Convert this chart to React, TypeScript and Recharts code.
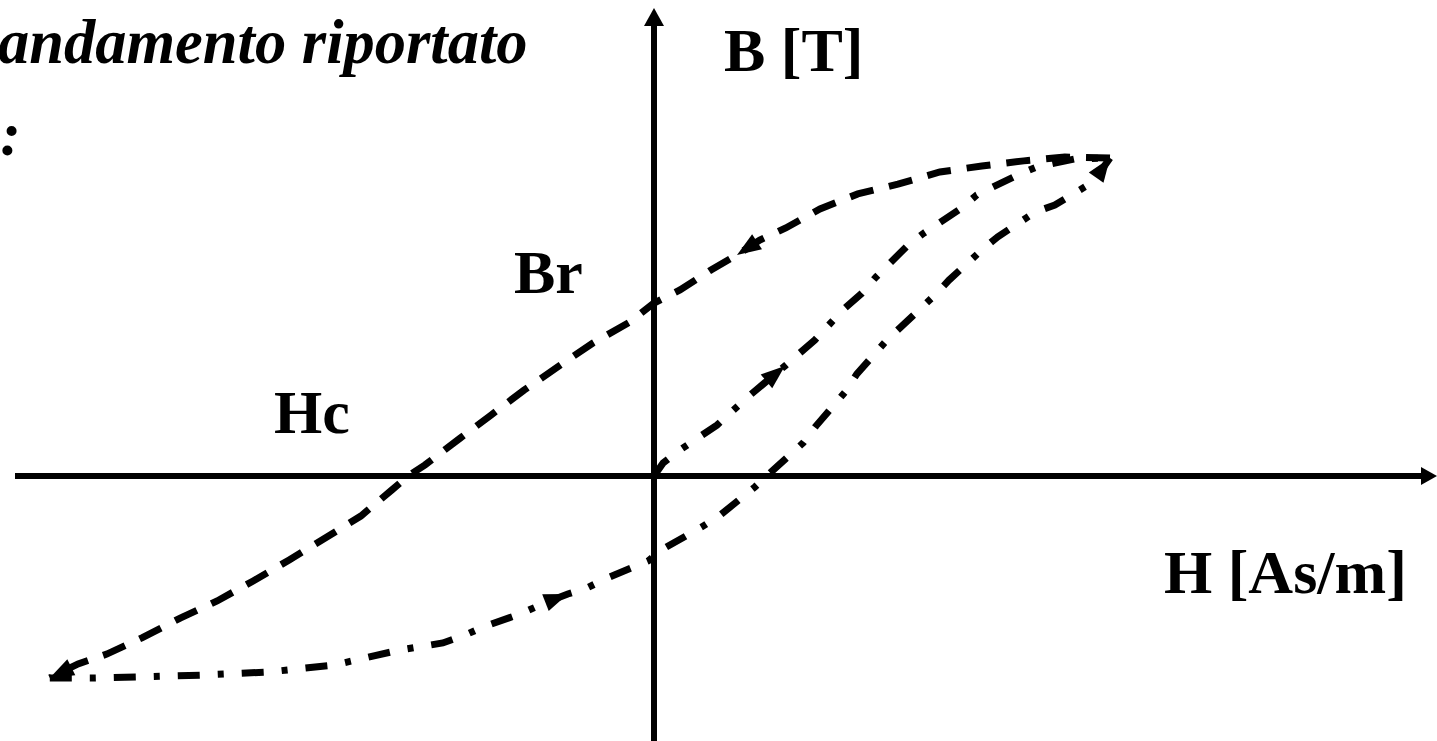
import React from 'react';
import { LineChart, Line, XAxis, YAxis, ReferenceLine } from 'recharts';

// canvas and where the H/B origin sits on it
const WIDTH = 1437;
const HEIGHT = 741;
const ORIGIN_X = 654;
const ORIGIN_Y = 476;
const PX_PER_H = 4.56;
const PX_PER_B = 318;

const hDomain: [number, number] = [-ORIGIN_X / PX_PER_H, (WIDTH - ORIGIN_X) / PX_PER_H];
const bDomain: [number, number] = [-(HEIGHT - ORIGIN_Y) / PX_PER_B, ORIGIN_Y / PX_PER_B];

// descending branch (from +Hmax back to -Hmax), [H, B]
const descending: [number, number][] = [
  [100, 1.0], [90.1, 1.003], [81.1, 0.991], [71.9, 0.975], [62.7, 0.956],
  [53.5, 0.918], [44.7, 0.887], [36.4, 0.84], [28.9, 0.78], [23.2, 0.742],
  [18.2, 0.695], [12.5, 0.648], [5.7, 0.585], [0, 0.544], [-5.3, 0.484],
  [-13.4, 0.418], [-20.8, 0.346], [-28.5, 0.27], [-35.7, 0.192], [-42.5, 0.119],
  [-50.2, 0.035], [-53.9, 0], [-57.5, -0.044], [-64.3, -0.126], [-72.1, -0.195],
  [-80.0, -0.264], [-87.9, -0.33], [-95.8, -0.393], [-103.9, -0.447], [-112.3, -0.509],
  [-120.0, -0.56], [-126.3, -0.591], [-132.5, -0.635],
];

// ascending branch (from -Hmax up to +Hmax)
const ascending: [number, number][] = [
  [-132.5, -0.635], [-122.6, -0.635], [-113.2, -0.632], [-98.9, -0.626], [-84.2, -0.616],
  [-70.0, -0.594], [-55.7, -0.547], [-46.3, -0.525], [-41.4, -0.5], [-37.5, -0.475],
  [-29.4, -0.434], [-23.9, -0.399], [-18.9, -0.371], [-14.7, -0.352], [-10.3, -0.321],
  [-1.3, -0.267], [2.4, -0.226], [10.5, -0.16], [14.5, -0.123], [22.1, -0.035],
  [25.4, 0.009], [32.7, 0.104], [35.5, 0.157], [41.9, 0.264], [44.5, 0.321],
  [51.1, 0.428], [54.4, 0.472], [61.6, 0.569], [64.7, 0.616], [71.9, 0.711],
  [75.4, 0.752], [83.6, 0.83], [87.9, 0.852], [96.3, 0.925], [100, 1.0],
];

// first magnetization curve from the origin
const firstMagnetization: [number, number][] = [
  [0, 0], [2.0, 0.041], [5.7, 0.082], [13.8, 0.16], [21.1, 0.255],
  [28.7, 0.346], [35.3, 0.428], [41.4, 0.522], [45.6, 0.575], [48.7, 0.626],
  [55.7, 0.726], [59.2, 0.764], [67.5, 0.843], [70.8, 0.884], [79.8, 0.947],
  [84.0, 0.972], [92.3, 0.997], [100, 1.0],
];

// points that carry a direction arrow
const descendingArrows = [10, 32];
const ascendingArrows = [12, 34];
const firstArrows = [5];

type Pt = { h: number; b: number };
const toPts = (rows: [number, number][]): Pt[] => rows.map(([h, b]) => ({ h, b }));

const descData = toPts(descending);
const ascData = toPts(ascending);
const firstData = toPts(firstMagnetization);

const FONT = '"Liberation Serif", "Times New Roman", serif';

const arrowDot = (pts: Pt[], at: number[]) => (props: any) => {
  const { cx, cy, index } = props;
  if (!at.includes(index) || index === 0 || cx == null) return <g key={`n-${index}`} />;
  const prev = pts[index - 1];
  const cur = pts[index];
  const ang = (Math.atan2(-(cur.b - prev.b) * PX_PER_B, (cur.h - prev.h) * PX_PER_H) * 180) / Math.PI;
  return (
    <path
      key={`a-${index}`}
      d="M0,0 L-24,-9 L-24,9 Z"
      fill="#000"
      stroke="none"
      transform={`translate(${cx},${cy}) rotate(${ang})`}
    />
  );
};

const hAxisLine = (p: any) => (
  <g>
    <line x1={p.x1} y1={p.y1} x2={p.x2 - 14} y2={p.y2} stroke="#000" strokeWidth={6} />
    <path d={`M${p.x2},${p.y2} L${p.x2 - 16},${p.y2 - 9} L${p.x2 - 16},${p.y2 + 9} Z`} fill="#000" />
  </g>
);

const bAxisLine = (p: any) => {
  const top = Math.min(p.y1, p.y2);
  const bottom = Math.max(p.y1, p.y2);
  return (
    <g>
      <line x1={p.x1} y1={bottom} x2={p.x1} y2={top + 16} stroke="#000" strokeWidth={6} />
      <path d={`M${p.x1},${top} L${p.x1 - 10},${top + 18} L${p.x1 + 10},${top + 18} Z`} fill="#000" />
    </g>
  );
};

const labelStyle: React.CSSProperties = { fontFamily: FONT, fontWeight: 700, fontSize: 62 };

export default function App() {
  return (
    <div style={{ position: 'absolute', left: 0, top: 0, width: WIDTH, height: HEIGHT, background: '#fff' }}>
      <LineChart width={WIDTH} height={HEIGHT} margin={{ top: 0, right: 0, bottom: 0, left: 0 }}>
        <XAxis type="number" dataKey="h" domain={hDomain} hide allowDataOverflow />
        <YAxis type="number" dataKey="b" domain={bDomain} hide allowDataOverflow />
        <ReferenceLine
          segment={[{ x: (15 - ORIGIN_X) / PX_PER_H, y: 0 }, { x: hDomain[1], y: 0 }]}
          shape={hAxisLine}
          ifOverflow="visible"
        />
        <ReferenceLine
          segment={[{ x: 0, y: bDomain[0] }, { x: 0, y: (ORIGIN_Y - 8) / PX_PER_B }]}
          shape={bAxisLine}
          ifOverflow="visible"
        />
        <Line
          data={descData}
          dataKey="b"
          type="linear"
          stroke="#000"
          strokeWidth={7}
          strokeDasharray="24 16"
          dot={arrowDot(descData, descendingArrows)}
          activeDot={false}
          isAnimationActive={false}
        />
        <Line
          data={ascData}
          dataKey="b"
          type="linear"
          stroke="#000"
          strokeWidth={7}
          strokeDasharray="22 18 6 18"
          dot={arrowDot(ascData, ascendingArrows)}
          activeDot={false}
          isAnimationActive={false}
        />
        <Line
          data={firstData}
          dataKey="b"
          type="linear"
          stroke="#000"
          strokeWidth={7}
          strokeDasharray="22 18 6 18"
          dot={arrowDot(firstData, firstArrows)}
          activeDot={false}
          isAnimationActive={false}
        />
      </LineChart>
      <svg
        width={WIDTH}
        height={HEIGHT}
        style={{ position: 'absolute', left: 0, top: 0, pointerEvents: 'none' }}
      >
        <text x={-2} y={63} style={{ ...labelStyle, fontSize: 62.5, fontStyle: 'italic' }}>andamento riportato</text>
        <text x={21} y={155} textAnchor="end" style={{ ...labelStyle, fontStyle: 'italic' }}>o:</text>
        <text x={5} y={707} textAnchor="end" style={labelStyle}>:</text>
        <text x={724} y={71} style={labelStyle}>B [T]</text>
        <text x={514} y={293} style={labelStyle}>Br</text>
        <text x={274} y={433} style={labelStyle}>Hc</text>
        <text x={1164} y={593} style={labelStyle}>H [As/m]</text>
      </svg>
    </div>
  );
}
